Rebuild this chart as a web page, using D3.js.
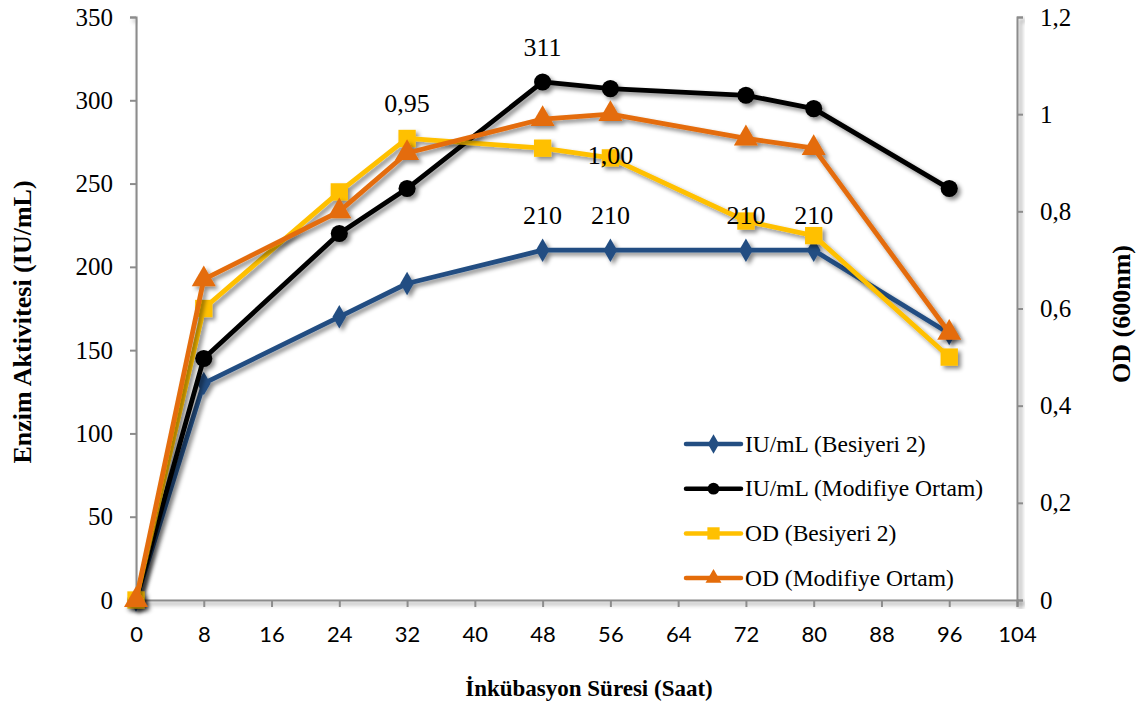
<!DOCTYPE html>
<html>
<head>
<meta charset="utf-8">
<script src="https://cdn.jsdelivr.net/npm/d3@7/dist/d3.min.js"></script>
<style>
  html, body { margin: 0; padding: 0; background: #fff; }
  svg { display: block; }
</style>
</head>
<body>
<svg id="chart" width="1140" height="703"></svg>
<script>
// Incubation times (hours)
const hours = [0, 8, 24, 32, 48, 56, 72, 80, 96];

// Enzyme activity (IU/mL) – left axis
const iuBesiyeri = [0, 130, 170, 190, 210, 210, 210, 210, 160];
const iuModifiye = [0, 145, 220, 247, 311, 307, 303, 295, 247];

// Optical density at 600 nm – right axis
const odBesiyeri = [0, 0.60, 0.84, 0.95, 0.93, 0.91, 0.78, 0.75, 0.50];
const odModifiye = [0, 0.66, 0.80, 0.92, 0.99, 1.00, 0.95, 0.93, 0.55];

const xTicks = [0, 8, 16, 24, 32, 40, 48, 56, 64, 72, 80, 88, 96, 104];
const leftTicks = [0, 50, 100, 150, 200, 250, 300, 350];
const rightTicks = [0, 0.2, 0.4, 0.6, 0.8, 1.0, 1.2];

const seriesNames = ["IU/mL (Besiyeri 2)", "IU/mL (Modifiye Ortam)", "OD (Besiyeri 2)", "OD (Modifiye Ortam)"];

// Hours whose points carry a value label, per series
const labelledBesiyeriIU = [48, 56, 72, 80];
const labelledModifiyeIU = [48];
const labelledBesiyeriOD = [32];
const labelledModifiyeOD = [56];

const SERIF = '"Liberation Serif", "Times New Roman", serif';
const SANS = 'Lato, "Open Sans", sans-serif';

const svg = d3.select("#chart");
const plot = { left: 136, right: 1017, top: 17, bottom: 600 };

const x = d3.scaleLinear().domain([0, 104]).range([plot.left, plot.right]);
const yL = d3.scaleLinear().domain([0, 350]).range([plot.bottom, plot.top]);
const yR = d3.scaleLinear().domain([0, 1.2]).range([plot.bottom, plot.top]);

// soft drop shadow used on axes, lines and markers
const defs = svg.append("defs");
const f = defs.append("filter").attr("id", "shadow")
  .attr("x", "-20%").attr("y", "-20%").attr("width", "140%").attr("height", "140%");
f.append("feDropShadow").attr("dx", 3).attr("dy", 3).attr("stdDeviation", 2.2)
  .attr("flood-color", "#000").attr("flood-opacity", 0.45);

const axisColor = "#8c8c8c";
const commaFmt = d => {
  const s = d3.format(".1f")(d);
  return s.endsWith(".0") ? s.slice(0, -2) : s.replace(".", ",");
};

// Axes
const gx = svg.append("g").attr("transform", `translate(0,${plot.bottom})`)
  .call(d3.axisBottom(x).tickValues(xTicks).tickSize(7).tickPadding(19).tickFormat(d3.format("d")));
const gl = svg.append("g").attr("transform", `translate(${plot.left},0)`)
  .call(d3.axisLeft(yL).tickValues(leftTicks).tickSize(6).tickPadding(17).tickFormat(d3.format("d")));
const gr = svg.append("g").attr("transform", `translate(${plot.right},0)`)
  .call(d3.axisRight(yR).tickValues(rightTicks).tickSize(6).tickPadding(17).tickFormat(commaFmt));

[gx, gl, gr].forEach(g => {
  g.select(".domain").attr("stroke", axisColor).attr("stroke-width", 2).attr("filter", "url(#shadow)");
  g.selectAll(".tick line").attr("stroke", axisColor).attr("stroke-width", 2);
  g.selectAll("text").attr("fill", "#000");
});
gl.selectAll("text").attr("font-size", 25).attr("font-family", SERIF);
gr.selectAll("text").attr("font-size", 25).attr("font-family", SERIF);
gx.selectAll("text").attr("font-size", 22).attr("font-family", SANS);

// Axis titles
svg.append("text").attr("x", 589).attr("y", 696).attr("text-anchor", "middle")
  .attr("font-family", SERIF).attr("font-size", 23).attr("font-weight", "bold")
  .text("İnkübasyon Süresi (Saat)");
svg.append("text").attr("transform", "translate(31,322) rotate(-90)").attr("text-anchor", "middle")
  .attr("font-family", SERIF).attr("font-size", 26).attr("font-weight", "bold")
  .text("Enzim Aktivitesi (IU/mL)");
svg.append("text").attr("transform", "translate(1130,314) rotate(-90)").attr("text-anchor", "middle")
  .attr("font-family", SERIF).attr("font-size", 26).attr("font-weight", "bold")
  .text("OD (600nm)");

// Marker symbols
const markerSize = { diamond: 160, circle: 230, square: 300, triangle: 250 };
const symbolType = { diamond: d3.symbolDiamond, circle: d3.symbolCircle, square: d3.symbolSquare, triangle: d3.symbolTriangle };

const series = [
  { name: seriesNames[0], values: iuBesiyeri, y: yL, color: "#234E82", marker: "diamond" },
  { name: seriesNames[1], values: iuModifiye, y: yL, color: "#000000", marker: "circle" },
  { name: seriesNames[2], values: odBesiyeri, y: yR, color: "#FFC000", marker: "square" },
  { name: seriesNames[3], values: odModifiye, y: yR, color: "#E46C0A", marker: "triangle" }
];

series.forEach(s => {
  const pts = hours.map((h, i) => [h, s.values[i]]);
  const sym = d3.symbol().type(symbolType[s.marker]).size(markerSize[s.marker]);
  const g = svg.append("g").attr("filter", "url(#shadow)");
  g.append("path").datum(pts)
    .attr("d", d3.line().x(d => x(d[0])).y(d => s.y(d[1])))
    .attr("fill", "none").attr("stroke", s.color).attr("stroke-width", 4.8)
    .attr("stroke-linejoin", "round");
  g.selectAll("path.m").data(pts).join("path").attr("class", "m")
    .attr("d", sym)
    .attr("transform", d => `translate(${x(d[0])},${s.y(d[1])})`)
    .attr("fill", s.color);
});

// Value labels
function addLabels(values, scale, hoursList, fmt, dy) {
  hoursList.forEach(h => {
    const i = hours.indexOf(h);
    svg.append("text").attr("x", x(h)).attr("y", scale(values[i]) + dy)
      .attr("text-anchor", "middle").attr("font-family", SERIF).attr("font-size", 26)
      .attr("fill", "#000").text(fmt(values[i]));
  });
}
const fmt2 = v => d3.format(".2f")(v).replace(".", ",");
addLabels(iuBesiyeri, yL, labelledBesiyeriIU, d3.format("d"), -26);
addLabels(iuModifiye, yL, labelledModifiyeIU, d3.format("d"), -26);
addLabels(odBesiyeri, yR, labelledBesiyeriOD, fmt2, -26);
addLabels(odModifiye, yR, labelledModifiyeOD, fmt2, 50);

// Legend
const legend = svg.append("g").attr("transform", "translate(686,444)");
series.forEach((s, i) => {
  const row = legend.append("g").attr("transform", `translate(0,${i * 44.7})`);
  row.append("line").attr("x1", 0).attr("x2", 55).attr("y1", 0).attr("y2", 0)
    .attr("stroke", s.color).attr("stroke-width", 4.5).attr("stroke-linecap", "round");
  const sym = d3.symbol().type(symbolType[s.marker]).size(s.marker === "square" ? 150 : 110);
  row.append("path").attr("d", sym()).attr("transform", "translate(27.5,0)").attr("fill", s.color);
  row.append("text").attr("x", 59).attr("y", 0).attr("dy", "0.33em")
    .attr("font-family", SERIF).attr("font-size", 23.5).attr("fill", "#000").text(s.name);
});
</script>
</body>
</html>
